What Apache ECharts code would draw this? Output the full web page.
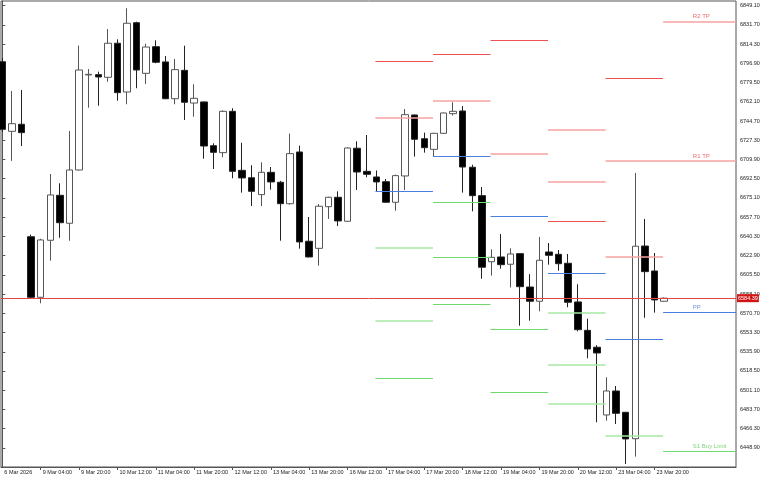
<!DOCTYPE html>
<html><head><meta charset="utf-8">
<script src="https://cdn.jsdelivr.net/npm/echarts@6/dist/echarts.min.js"></script>
<style>html,body{margin:0;padding:0;background:#fff}#c{width:768px;height:480px}</style>
</head><body><div id="c"></div>
<script>
// ---- data (4H bars) ----
const opens = [6798.4,6735.4,6741.8,6640.0,6585.2,6636.8,6677.5,6652.2,6700.4,6786.4,
6786.7,6784.3,6815.1,6771.0,6833.7,6787.9,6812.0,6798.2,6764.9,6790.6,
6761.0,6762.0,6722.4,6716.1,6753.5,6700.1,6693.4,6678.1,6698.3,6689.3,
6669.9,6716.7,6635.9,6629.5,6667.2,6675.7,6654.0,6720.1,6699.2,6694.1,
6689.8,6671.2,6695.0,6750.2,6728.7,6719.1,6733.6,6751.4,6753.8,6702.9,
6677.2,6617.4,6621.7,6615.1,6624.7,6594.5,6581.6,6626.2,6624.1,6616.0,
6581.0,6555.3,6540.0,6478.7,6500.4,6481.1,6457.2,6631.6,6609.0,6581.6];
const closes = [6737.2,6742.3,6734.2,6585.2,6637.1,6677.8,6652.7,6700.4,6790.9,6787.0,
6784.6,6815.1,6770.4,6833.2,6790.9,6811.7,6797.9,6764.9,6791.2,6761.7,
6765.3,6722.1,6716.4,6753.5,6699.2,6693.2,6681.1,6698.3,6689.6,6669.9,
6715.2,6635.3,6621.7,6667.6,6675.7,6654.3,6720.3,6698.6,6696.5,6689.6,
6671.2,6695.3,6750.5,6728.2,6720.6,6733.6,6752.0,6753.5,6703.1,6677.2,
6612.4,6621.4,6614.7,6624.4,6594.8,6581.6,6618.7,6623.2,6615.6,6580.7,
6555.9,6538.4,6534.8,6500.4,6480.2,6457.0,6631.4,6608.4,6582.8,6584.39];
const lows = [6734.8,6708.6,6722.1,6584.3,6579.8,6618.3,6639.1,6636.4,6699.9,6756.8,
6758.6,6780.3,6763.1,6759.9,6774.4,6778.2,6797.0,6764.5,6759.9,6745.7,
6748.6,6710.6,6701.3,6711.9,6692.9,6679.9,6667.8,6667.8,6682.6,6636.4,
6669.0,6629.2,6621.3,6613.8,6656.1,6649.7,6653.6,6682.3,6693.8,6681.4,
6670.8,6663.6,6682.3,6712.5,6716.1,6712.5,6733.2,6749.6,6679.9,6663.0,
6602.0,6604.8,6611.1,6594.1,6559.5,6564.0,6572.5,6614.7,6609.3,6576.2,
6554.4,6530.0,6472.1,6473.5,6470.5,6434.3,6441.0,6566.7,6571.3,6581.3];
const highs = [6801.8,6771.9,6772.8,6641.9,6638.2,6696.8,6688.4,6735.7,6812.9,6791.8,
6789.4,6828.0,6818.7,6846.8,6834.6,6814.7,6817.8,6803.6,6800.9,6812.9,
6778.0,6762.3,6724.6,6754.4,6756.3,6725.1,6704.7,6707.4,6703.1,6690.5,
6733.3,6722.4,6657.9,6669.6,6676.2,6681.1,6720.8,6726.4,6732.1,6700.0,
6692.3,6696.2,6755.6,6750.6,6734.2,6734.0,6752.4,6761.7,6758.3,6705.2,
6685.0,6628.6,6642.5,6629.6,6625.1,6606.1,6639.8,6634.3,6628.0,6624.4,
6597.0,6565.8,6541.8,6512.8,6504.9,6481.5,6697.7,6656.1,6625.3,6585.0];

const xLabelIndex = [0,4,8,12,16,20,24,28,32,36,40,44,48,52,56,60,64,68];
const xTickLabels = ['6 Mar 2026','9 Mar 04:00','9 Mar 20:00','10 Mar 12:00','11 Mar 04:00','11 Mar 20:00',
'12 Mar 12:00','13 Mar 04:00','13 Mar 20:00','16 Mar 12:00','17 Mar 04:00','17 Mar 20:00',
'18 Mar 12:00','19 Mar 04:00','19 Mar 20:00','20 Mar 12:00','23 Mar 04:00','23 Mar 20:00'];
const yTickValues = [6448.90,6466.30,6483.70,6501.10,6518.50,6535.90,6553.30,6570.70,6588.10,6605.50,
6622.90,6640.30,6657.70,6675.10,6692.50,6709.90,6727.30,6744.70,6762.10,6779.50,
6796.90,6814.30,6831.70,6849.10];
const currentPrice = 6584.39;

// daily pivot levels: [first bar of day, price]
const barsPerDay = 6;
const pivotRed = [[39,6798.8],[45,6805.1],[51,6817.8],[57,6654.3],[63,6783.4]];
const pivotRedLight = [[39,6748.1],[45,6763.1],[51,6715.2],[57,6737.2],[57,6689.6],[63,6622.0],[63,6708.6]];
const pivotBlue = [[39,6681.1],[45,6713.1],[51,6658.5],[57,6606.9],[63,6547.2]];
const pivotGreen = [[39,6512.2],[45,6671.5],[45,6621.4],[45,6578.9],[51,6556.2],[51,6499.5]];
const pivotGreenLight = [[39,6630.1],[39,6563.8],[57,6571.3],[57,6523.9],[57,6488.6],[63,6460.0]];
// current-day trade levels
const tradeNames = ['R2 TP','R1 TP','PP','S1 Buy Limit'];
const tradeValues = [6834.6, 6708.6, 6571.6, 6446.1];
const tradeStartBar = 69;
const tradeLabelBar = 72;

// ---- styles ----
const X_MIN = -0.143, X_MAX = 76.5;
const C_RED = '#f05252', C_RED_L = '#f6a2a2', C_BLUE = '#4a7fe0', C_GREEN = '#6fd86f', C_GREEN_L = '#a6e8a6';
const tradeLine = [C_RED_L, C_RED_L, C_BLUE, C_GREEN];
const tradeText = ['#e84848', '#e84848', '#4a78d8', '#5cc85c'];
const FONT = 'Liberation Sans';

const candleData = opens.map((o, i) => [i, o, closes[i], lows[i], highs[i]]);

function segs(list, color, width) {
  return list.map(([s, v]) => [
    {coord: [s - 0.1, v], lineStyle: {color, width, type: 'solid'}},
    {coord: [s - 0.1 + barsPerDay, v]}
  ]);
}
const markData = [].concat(
  segs(pivotRed, C_RED, 1),
  segs(pivotRedLight, C_RED_L, 1.6),
  segs(pivotBlue, C_BLUE, 1),
  segs(pivotGreen, C_GREEN, 1),
  segs(pivotGreenLight, C_GREEN_L, 1.6),
  tradeValues.map((v, k) => [
    {coord: [tradeStartBar - 0.1, v], lineStyle: {color: tradeLine[k], width: k < 2 ? 1.6 : 1, type: 'solid'}},
    {coord: [X_MAX, v]}
  ]),
  [{yAxis: currentPrice, lineStyle: {color: '#e04848', width: 1, type: 'solid'},
    label: {show: true, position: 'end', distance: 1, formatter: currentPrice.toFixed(2),
      backgroundColor: '#d41414', color: '#fff', fontSize: 5.5, fontFamily: FONT, padding: [1, 1, 1, 1]}}]
);

const chart = echarts.init(document.getElementById('c'), null, {renderer: 'canvas'});
chart.setOption({
  animation: false,
  backgroundColor: '#fff',
  grid: {left: 1, right: 32, top: 1, bottom: 13, show: true, borderColor: '#555', borderWidth: 1},
  xAxis: {
    type: 'value', min: X_MIN, max: X_MAX,
    splitLine: {show: false},
    axisLine: {show: true, lineStyle: {color: '#555'}},
    axisTick: {show: true, length: 3, customValues: xLabelIndex.slice(1), lineStyle: {color: '#555'}},
    axisLabel: {customValues: xLabelIndex, align: 'left', margin: 2, padding: [0, 0, 0, 2],
      fontSize: 5.5, fontFamily: FONT, color: '#222', hideOverlap: false,
      formatter: v => xTickLabels[xLabelIndex.indexOf(Math.round(v))]}
  },
  yAxis: {
    type: 'value', position: 'right', min: 6431.6, max: 6853.35, scale: true,
    splitLine: {show: false},
    axisLine: {show: true, lineStyle: {color: '#555'}},
    axisTick: {show: true, length: 3, customValues: yTickValues, lineStyle: {color: '#555'}},
    axisLabel: {customValues: yTickValues, margin: 4, fontSize: 5.5, fontFamily: FONT, color: '#222',
      formatter: v => v.toFixed(2)}
  },
  series: [
    {
      type: 'candlestick', data: candleData, encode: {x: 0, y: [1, 2, 3, 4]},
      barWidth: 7, clip: true,
      itemStyle: {color: '#fff', color0: '#000', borderColor: '#555', borderColor0: '#222', borderWidth: 1},
      markLine: {silent: true, symbol: 'none', label: {show: false}, animation: false, data: markData}
    },
    {
      type: 'scatter', symbolSize: 0, silent: true,
      data: tradeValues.map((v, k) => ({value: [tradeLabelBar, v],
        label: {show: true, position: [0, -8], formatter: tradeNames[k], color: tradeText[k],
          fontSize: 6, fontFamily: FONT}}))
    }
  ]
});
</script></body></html>
